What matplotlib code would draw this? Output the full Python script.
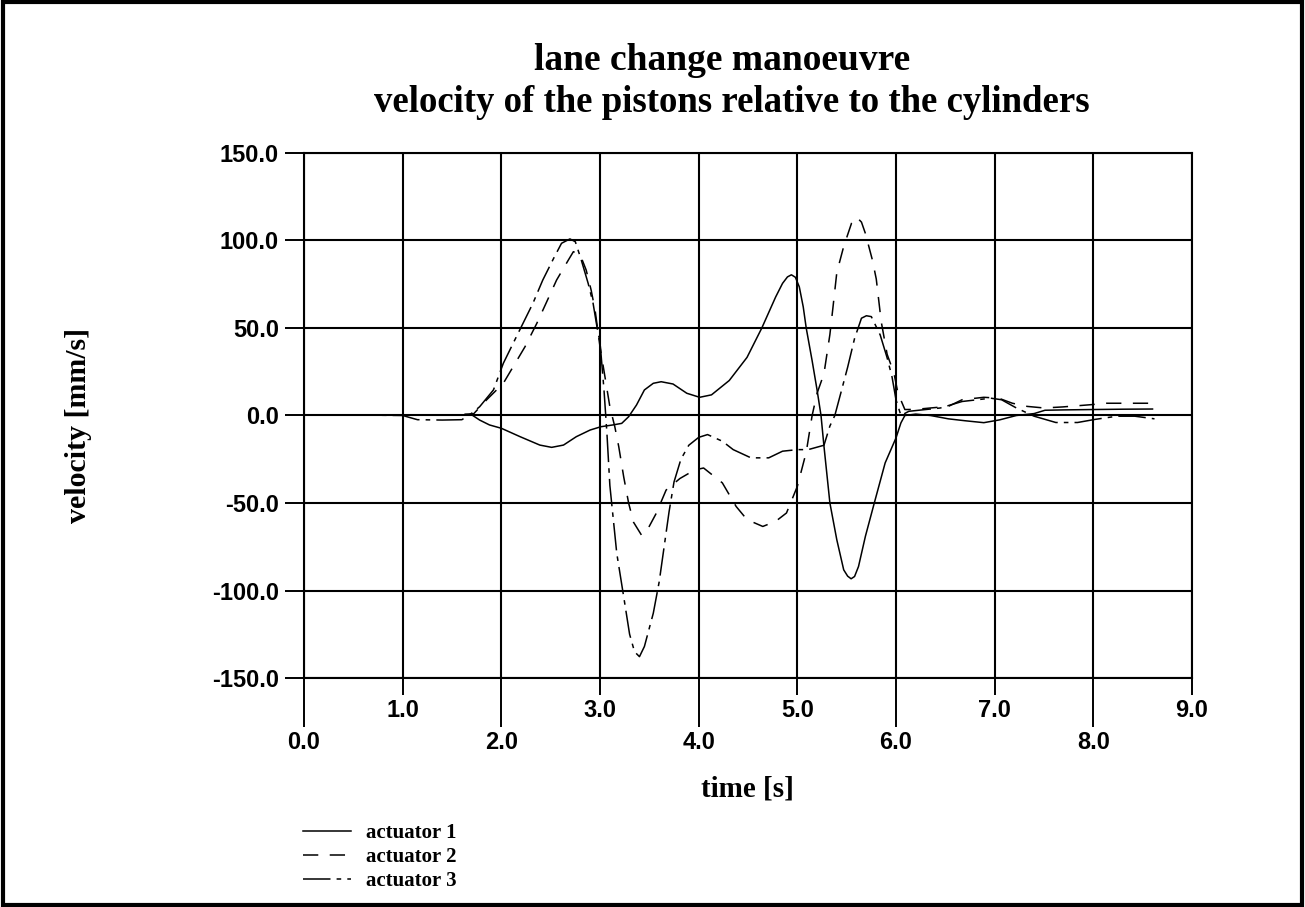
import matplotlib
matplotlib.use("Agg")
import matplotlib.pyplot as plt
from matplotlib.patches import Rectangle
from matplotlib.ticker import FixedLocator, FormatStrFormatter

# actuator 1 (solid)
t1 = [0.0, 0.5, 1.0, 1.5, 1.7, 1.78, 1.88, 2.0, 2.19, 2.39, 2.51, 2.63, 2.76, 2.9,
      3.01, 3.13, 3.22, 3.29, 3.37, 3.45, 3.54, 3.62, 3.74, 3.88, 4.01, 4.13, 4.31,
      4.49, 4.64, 4.78, 4.85, 4.9, 4.94, 4.98, 5.02, 5.06, 5.09, 5.15, 5.2, 5.24,
      5.27, 5.33, 5.4, 5.47, 5.51, 5.545, 5.58, 5.62, 5.69, 5.78, 5.89, 6.0, 6.05,
      6.09, 6.2, 6.35, 6.53, 6.7, 6.89, 7.05, 7.22, 7.4, 7.51, 7.7, 7.98, 8.3, 8.6]
v1 = [0.3, 0.3, 0.2, 0.3, 0.4, -2.6, -5.4, -7.3, -12.1, -16.9, -18.2, -16.9, -12.1,
      -8.3, -6.4, -5.4, -4.5, -0.7, 6.0, 14.6, 18.4, 19.3, 18.0, 12.7, 10.4, 11.8,
      20.0, 33.2, 50.0, 67.7, 75.5, 79.2, 80.4, 79.0, 73.5, 62.0, 50.0, 31.3, 14.6,
      0.0, -17.6, -50.0, -71.0, -88.2, -91.8, -93.3, -92.0, -86.3, -69.0, -50.0,
      -27.1, -12.8, -4.2, 0.0, 0.8, 0.0, -1.9, -3.0, -4.1, -2.5, 0.0, 1.1, 3.0, 3.2,
      3.4, 3.6, 3.7]

# actuator 2 (dashed)
t2 = [0.0, 0.5, 1.0, 1.5, 1.72, 1.85, 2.02, 2.12, 2.24, 2.36, 2.46, 2.56, 2.68, 2.73,
      2.8, 2.86, 2.91, 2.95, 3.0, 3.05, 3.1, 3.15, 3.19, 3.24, 3.29, 3.34, 3.42,
      3.47, 3.57, 3.67, 3.81, 3.96, 4.05, 4.24, 4.38, 4.49, 4.65, 4.78, 4.89, 5.0,
      5.09, 5.15, 5.2, 5.27, 5.33, 5.36, 5.4, 5.47, 5.55, 5.6, 5.65, 5.69, 5.76, 5.8,
      5.85, 5.91, 5.98, 6.02, 6.09, 6.2, 6.35, 6.53, 6.67, 6.89, 7.04, 7.18, 7.33,
      7.5, 7.69, 7.98, 8.13, 8.62]
v2 = [0.4, 0.4, 0.3, 0.4, 1.0, 8.9, 18.4, 27.9, 39.3, 52.7, 65.0, 77.4, 88.9, 93.6,
      91.7, 83.1, 71.7, 60.3, 39.3, 22.2, 5.0, -6.4, -17.8, -35.0, -50.0, -61.0,
      -68.3, -66.4, -55.9, -42.6, -36.0, -31.1, -30.0, -38.5, -52.0, -59.5, -63.4,
      -60.5, -55.7, -40.5, -21.0, 0.0, 12.7, 23.9, 46.3, 61.2, 81.7, 96.6, 110.0,
      113.4, 110.5, 104.0, 89.0, 78.0, 53.7, 35.0, 24.0, 12.7, 3.4, 3.5, 4.3, 5.2,
      9.0, 10.4, 9.9, 7.0, 5.2, 4.3, 4.9, 6.2, 7.0, 7.0]

# actuator 3 (long dash - short dash)
t3 = [0.0, 0.5, 1.0, 1.15, 1.4, 1.6, 1.7, 1.78, 1.92, 2.02, 2.12, 2.22, 2.32, 2.42,
      2.53, 2.61, 2.695, 2.75, 2.81, 2.88, 2.93, 2.97, 3.0, 3.04, 3.07, 3.1, 3.17,
      3.24, 3.3, 3.35, 3.4, 3.45, 3.54, 3.6, 3.65, 3.7, 3.75, 3.82, 3.9, 4.0, 4.09,
      4.24, 4.35, 4.53, 4.71, 4.85, 5.0, 5.11, 5.27, 5.33, 5.38, 5.44, 5.51, 5.58,
      5.65, 5.7, 5.75, 5.84, 5.91, 5.96, 6.0, 6.05, 6.13, 6.45, 6.67, 6.96, 7.07,
      7.22, 7.4, 7.62, 7.84, 8.02, 8.24, 8.42, 8.62]
v3 = [0.3, 0.3, 0.0, -2.4, -2.6, -2.4, 1.3, 5.0, 14.6, 29.8, 41.3, 52.7, 64.1, 77.4,
      89.8, 98.4, 100.9, 99.3, 88.9, 75.5, 64.1, 50.4, 42.0, 15.0, -10.0, -40.0,
      -78.8, -103.5, -125.0, -135.0, -137.8, -132.0, -113.0, -95.0, -75.0, -55.0,
      -38.0, -25.0, -17.0, -12.5, -10.9, -14.7, -19.5, -24.2, -24.2, -20.4, -19.5,
      -19.5, -17.0, -6.0, 0.0, 12.7, 27.6, 44.0, 55.6, 57.0, 56.5, 46.0, 33.0, 22.0,
      9.0, 0.0, 2.4, 4.3, 8.0, 9.9, 9.0, 4.3, -0.4, -4.0, -4.0, -2.2, -0.4, -0.4,
      -1.9]

labels = ["actuator 1", "actuator 2", "actuator 3"]
y_ticks = [-150, -100, -50, 0, 50, 100, 150]

serif = ["Liberation Serif", "DejaVu Serif"]
sans = ["Liberation Sans", "DejaVu Sans"]

W, H = 1305, 907
fig = plt.figure(figsize=(W / 100, H / 100), dpi=100)
ax = fig.add_axes([304 / W, 1 - 678 / H, (1192 - 304) / W, (678 - 153) / H])

l1, = ax.plot(t1, v1, color="black", lw=1.1, ls="-")
l2, = ax.plot(t2, v2, color="black", lw=1.1, ls=(0, (10, 7.5)))
l3, = ax.plot(t3, v3, color="black", lw=1.1, ls=(0, (18, 4, 3, 4)))

ax.set_xlim(0, 9)
ax.set_ylim(-150, 150)

# even x ticks long, odd x ticks short
ax.xaxis.set_major_locator(FixedLocator([0, 2, 4, 6, 8]))
ax.xaxis.set_minor_locator(FixedLocator([1, 3, 5, 7, 9]))
ax.xaxis.set_major_formatter(FormatStrFormatter("%.1f"))
ax.xaxis.set_minor_formatter(FormatStrFormatter("%.1f"))
ax.tick_params(axis="x", which="major", length=35, width=1.4, pad=3)
ax.tick_params(axis="x", which="minor", length=12, width=1.4, pad=3)
ax.set_yticks(y_ticks)
ax.yaxis.set_major_formatter(FormatStrFormatter("%.1f"))
ax.tick_params(axis="y", length=14, width=1.4, pad=4)
for lab in ax.get_xticklabels(which="both") + ax.get_yticklabels():
    lab.set_fontfamily(sans)
    lab.set_fontsize(17)
    lab.set_fontweight("bold")

ax.grid(which="both", color="black", lw=1.5)
for s in ax.spines.values():
    s.set_linewidth(1.5)

fig.text(722 / W, 1 - 60 / H, "lane change manoeuvre", ha="center", va="center",
         family=serif, weight="bold", fontsize=27)
fig.text(732 / W, 1 - 102 / H, "velocity of the pistons relative to the cylinders",
         ha="center", va="center", family=serif, weight="bold", fontsize=26.5)
fig.text(747 / W, 1 - 789 / H, "time [s]", ha="center", va="center",
         family=serif, weight="bold", fontsize=21)
fig.text(78 / W, 1 - 425 / H, "velocity [mm/s]", ha="center", va="center",
         rotation=90, family=serif, weight="bold", fontsize=21.5)

fig.legend([l1, l2, l3], labels, loc="upper left",
           bbox_to_anchor=(303 / W, 1 - 823 / H), frameon=False, borderpad=0,
           borderaxespad=0, handlelength=2.3, handletextpad=0.7, labelspacing=0.2,
           prop={"family": serif, "weight": "bold", "size": 15})

fig.patches.append(Rectangle((0.002, 0.002), 0.996, 0.996, transform=fig.transFigure,
                             fill=False, edgecolor="black", lw=3))

fig.savefig("out.png", dpi=100)
